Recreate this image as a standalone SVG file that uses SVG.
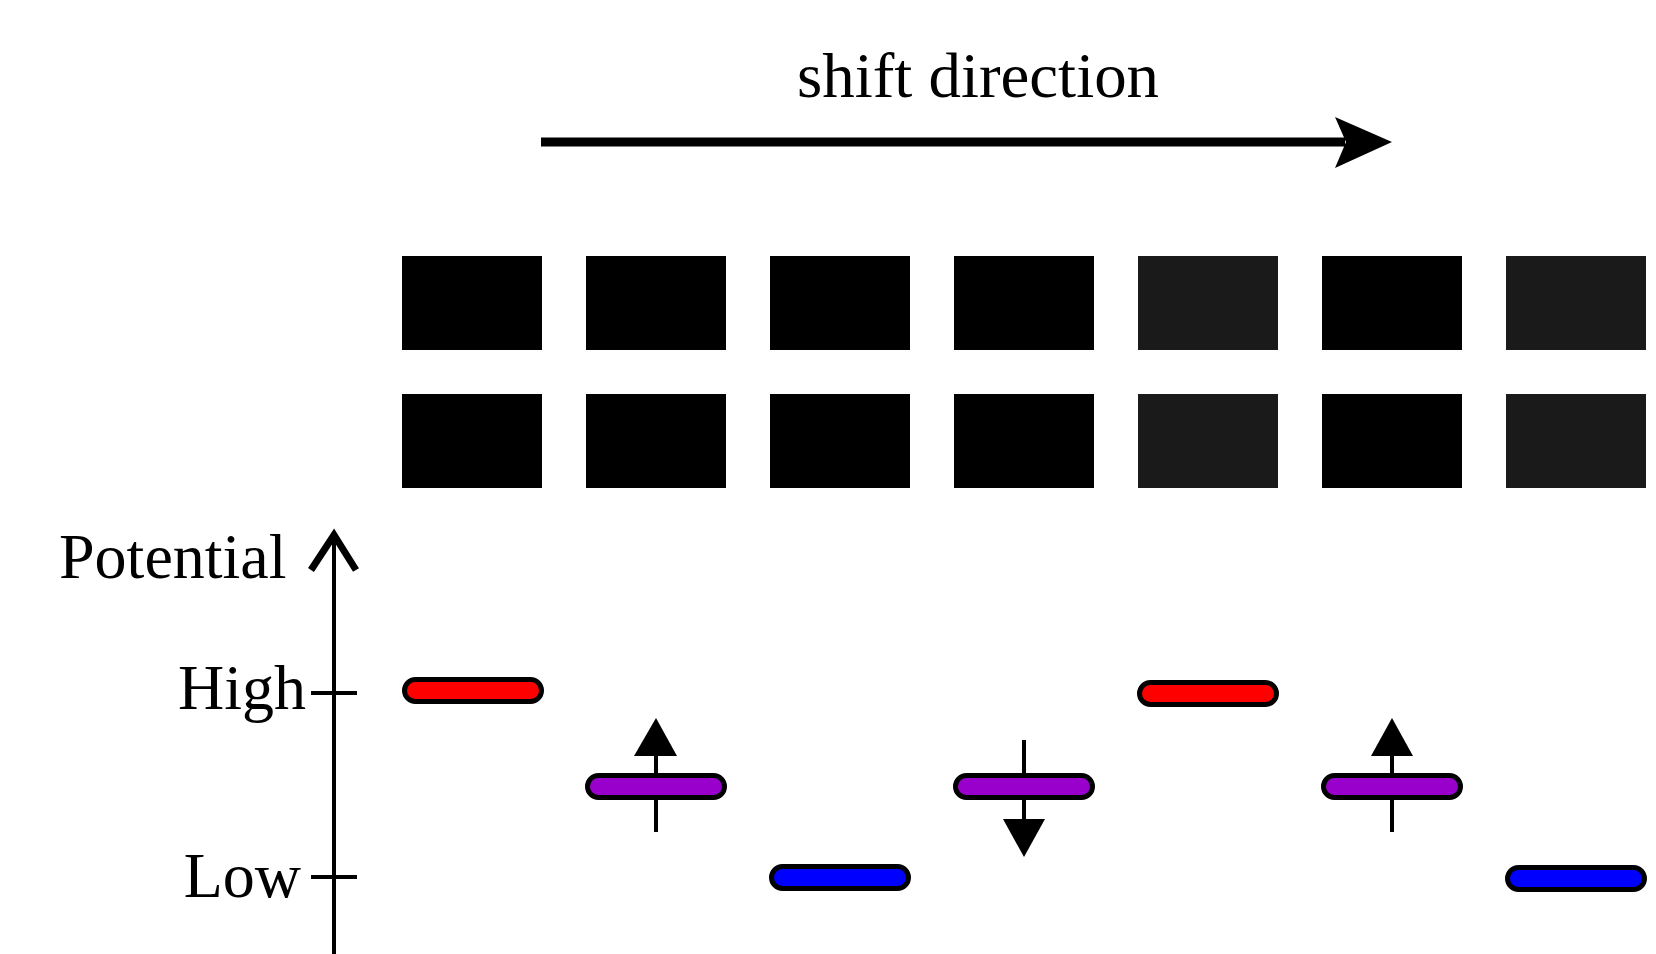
<svg xmlns="http://www.w3.org/2000/svg" width="1656" height="954" viewBox="0 0 1656 954">
  <style>
    .lbl { font-family: "Liberation Serif", "Times New Roman", serif; font-size: 64px; fill: #000; }
    .gate { fill: #000; }
    .gate2 { fill: #1a1a1a; }
    .bar { stroke: #000; stroke-width: 5; }
    .red { fill: #ff0000; }
    .pur { fill: #9900cc; }
    .blu { fill: #0000ff; }
    .ln { stroke: #000; stroke-width: 4; fill: none; }
  </style>
  <rect width="1656" height="954" fill="#fff"/>

  <g id="title">
    <text class="lbl" x="797" y="97" textLength="362" lengthAdjust="spacingAndGlyphs">shift direction</text>
  </g>

  <g id="connectors">
    <line x1="541" y1="142" x2="1345" y2="142" stroke="#000" stroke-width="9"/>
    <polygon points="1335,117 1392,142 1335,168 1346,142" fill="#000"/>
  </g>

  <g id="gates">
    <rect class="gate" x="402" y="256" width="140" height="94"/>
    <rect class="gate" x="586" y="256" width="140" height="94"/>
    <rect class="gate" x="770" y="256" width="140" height="94"/>
    <rect class="gate" x="954" y="256" width="140" height="94"/>
    <rect class="gate2" x="1138" y="256" width="140" height="94"/>
    <rect class="gate" x="1322" y="256" width="140" height="94"/>
    <rect class="gate2" x="1506" y="256" width="140" height="94"/>
    <rect class="gate" x="402" y="394" width="140" height="94"/>
    <rect class="gate" x="586" y="394" width="140" height="94"/>
    <rect class="gate" x="770" y="394" width="140" height="94"/>
    <rect class="gate" x="954" y="394" width="140" height="94"/>
    <rect class="gate2" x="1138" y="394" width="140" height="94"/>
    <rect class="gate" x="1322" y="394" width="140" height="94"/>
    <rect class="gate2" x="1506" y="394" width="140" height="94"/>
  </g>

  <g id="axis">
    <line class="ln" x1="334" y1="536" x2="334" y2="954"/>
    <polyline points="311,570 334,535 356,570" fill="none" stroke="#000" stroke-width="7"/>
    <line class="ln" x1="311" y1="693" x2="357" y2="693"/>
    <line class="ln" x1="311" y1="877" x2="357" y2="877"/>
    <text class="lbl" x="59" y="578">Potential</text>
    <text class="lbl" x="306" y="709" text-anchor="end">High</text>
    <text class="lbl" x="301" y="897" text-anchor="end">Low</text>
  </g>

  <g id="arrows">
    <line class="ln" x1="656" y1="756" x2="656" y2="832"/>
    <polygon points="634,756 656,718 677,756" fill="#000"/>
    <line class="ln" x1="1024" y1="740" x2="1024" y2="820"/>
    <polygon points="1003,819 1024,857 1045,819" fill="#000"/>
    <line class="ln" x1="1392" y1="756" x2="1392" y2="832"/>
    <polygon points="1371,756 1392,718 1413,756" fill="#000"/>
  </g>

  <g id="levels">
    <rect class="bar red" x="404.5" y="679.5" width="137" height="22" rx="11"/>
    <rect class="bar pur" x="587.5" y="775.5" width="137" height="22" rx="11"/>
    <rect class="bar blu" x="771.5" y="866.5" width="137" height="22" rx="11"/>
    <rect class="bar pur" x="955.5" y="775.5" width="137" height="22" rx="11"/>
    <rect class="bar red" x="1139.5" y="682.5" width="137" height="22" rx="11"/>
    <rect class="bar pur" x="1323.5" y="775.5" width="137" height="22" rx="11"/>
    <rect class="bar blu" x="1507.5" y="867.5" width="137" height="22" rx="11"/>
  </g>
</svg>
